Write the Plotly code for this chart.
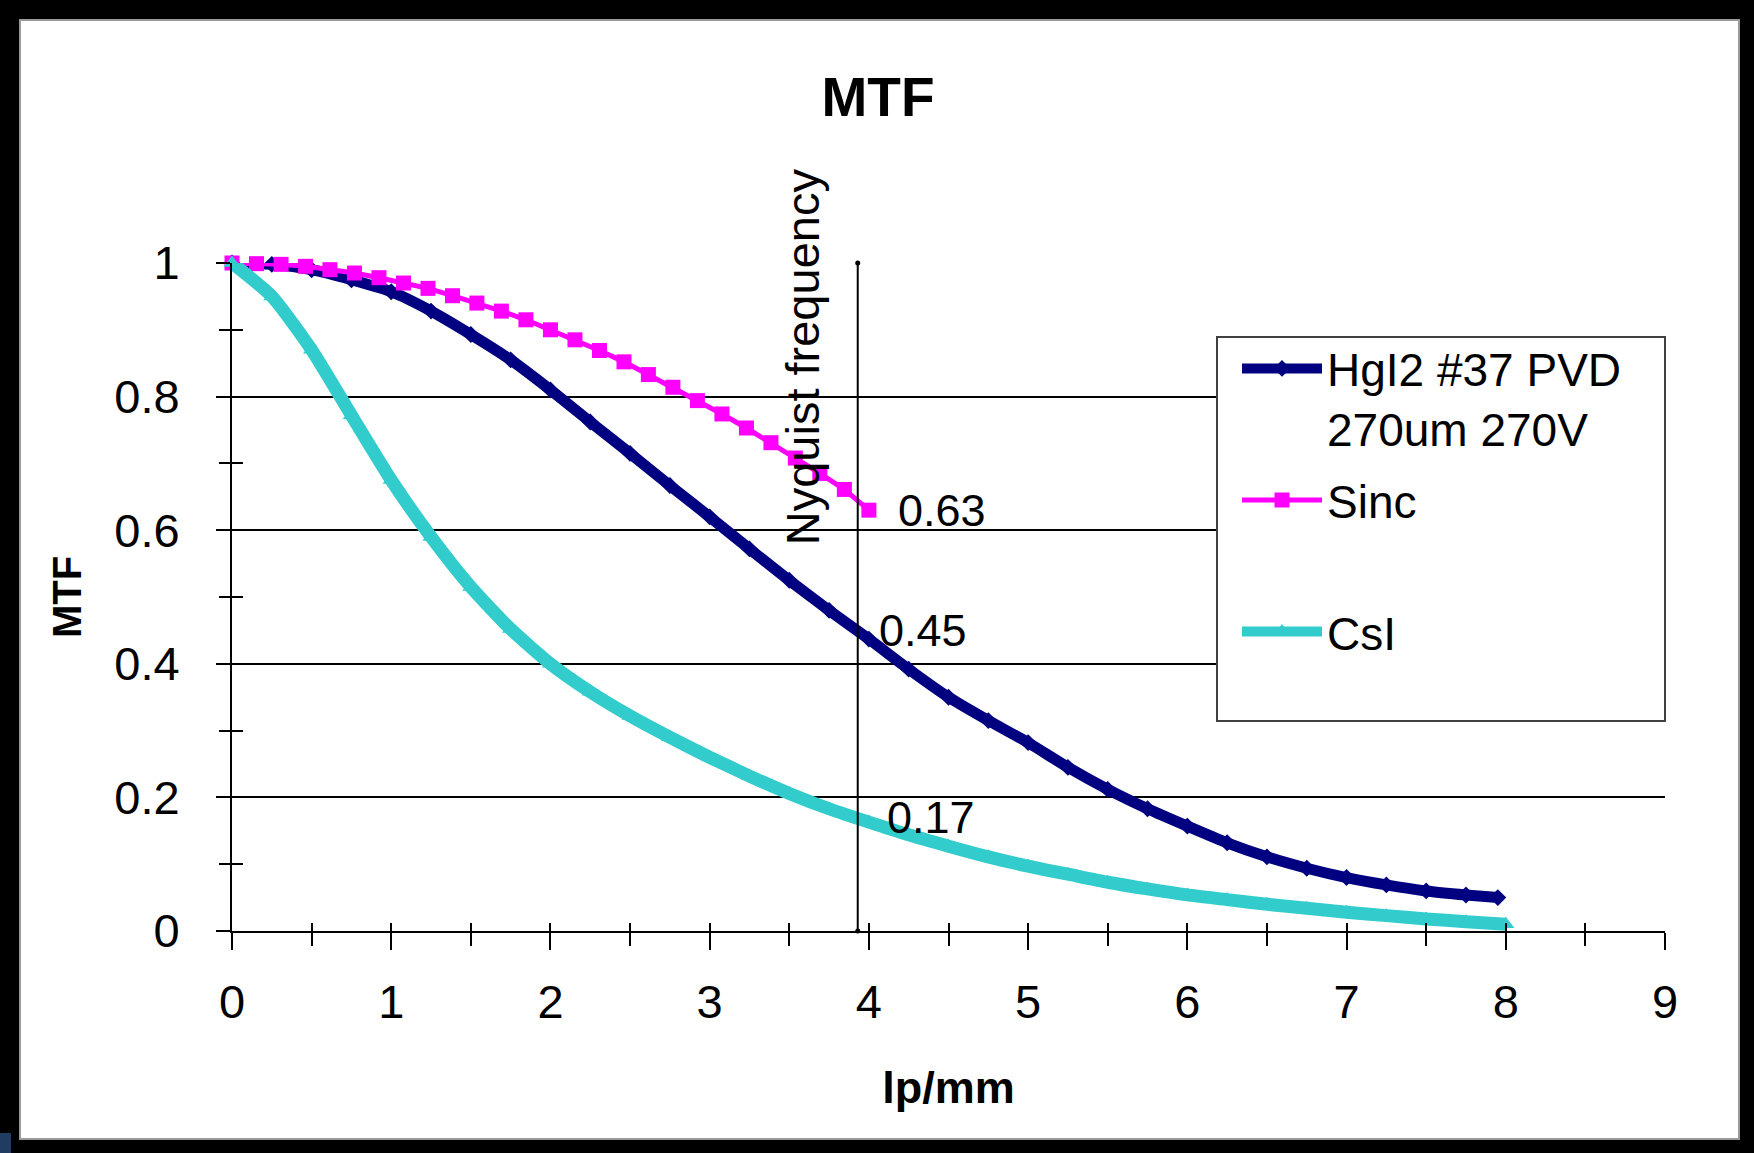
import plotly.graph_objects as go

# ---------------- data ----------------
hg_x = [0, 0.25, 0.5, 0.75, 1.0, 1.25, 1.5, 1.75, 2.0, 2.25, 2.5, 2.75, 3.0, 3.25, 3.5, 3.75,
        4.0, 4.25, 4.5, 4.75, 5.0, 5.25, 5.5, 5.75, 6.0, 6.25, 6.5, 6.75, 7.0, 7.25, 7.5, 7.75, 7.95]
hg_y = [1.0, 0.998, 0.99, 0.975, 0.957, 0.928, 0.893, 0.855, 0.81, 0.762, 0.715, 0.667, 0.62, 0.572,
        0.525, 0.48, 0.437, 0.392, 0.35, 0.315, 0.282, 0.245, 0.212, 0.183, 0.157, 0.132, 0.111,
        0.094, 0.08, 0.069, 0.06, 0.054, 0.05]

sinc_x = [0, 0.154, 0.308, 0.462, 0.615, 0.769, 0.923, 1.077, 1.231, 1.385, 1.538, 1.692, 1.846,
          2.0, 2.154, 2.308, 2.462, 2.615, 2.769, 2.923, 3.077, 3.231, 3.385, 3.538, 3.692, 3.846, 4.0]
sinc_y = [1.0, 0.999, 0.998, 0.995, 0.99, 0.985, 0.978, 0.97, 0.962, 0.951, 0.94, 0.928, 0.915,
          0.9, 0.885, 0.869, 0.852, 0.833, 0.814, 0.794, 0.774, 0.753, 0.731, 0.708, 0.685, 0.661, 0.63]

csi_x = [0, 0.25, 0.5, 0.75, 1.0, 1.25, 1.5, 1.75, 2.0, 2.25, 2.5, 2.75, 3.0, 3.25, 3.5, 3.75,
         4.0, 4.25, 4.5, 4.75, 5.0, 5.25, 5.5, 5.75, 6.0, 6.25, 6.5, 6.75, 7.0, 7.25, 7.5, 7.75, 8.0]
csi_y = [1.0, 0.95, 0.87, 0.772, 0.675, 0.59, 0.515, 0.452, 0.40, 0.358, 0.322, 0.29, 0.26, 0.232,
         0.206, 0.183, 0.163, 0.144, 0.127, 0.111, 0.097, 0.085, 0.073, 0.063, 0.054, 0.047, 0.04,
         0.034, 0.028, 0.023, 0.018, 0.014, 0.01]

series_names = ["HgI2 #37 PVD<br>270um 270V", "Sinc<br>\u00a0", "CsI"]

nyquist_x = 3.93
nyquist_y = [0, 1]
nyq_label_values = [0.63, 0.45, 0.17]
nyq_label_texts = ["0.63", "0.45", "0.17"]

x_ticks = [0, 1, 2, 3, 4, 5, 6, 7, 8, 9]
y_ticks = [0, 0.2, 0.4, 0.6, 0.8, 1]

# ---------------- layout constants ----------------
W, H = 1754, 1153
L, R, T, B = 232, 89, 263, 222
PW = W - L - R
PH = H - T - B
FONT = "Liberation Sans, Arial, sans-serif"
NAVY = "#000080"
MAGENTA = "#FF00FF"
CYAN = "#33CCCC"


def px_x(p):
    return (p - L) / PW


def px_y(p):
    return (H - B - p) / PH


fig = go.Figure()

fig.add_trace(go.Scatter(
    x=hg_x, y=hg_y, name=series_names[0], mode="lines+markers",
    line=dict(color=NAVY, width=11, shape="spline", smoothing=0.6),
    marker=dict(symbol="diamond", size=13, color=NAVY),
    legendgroup="g1", cliponaxis=False))
fig.add_trace(go.Scatter(
    x=sinc_x, y=sinc_y, name=series_names[1], mode="lines+markers",
    line=dict(color=MAGENTA, width=5), marker=dict(symbol="square", size=15, color=MAGENTA),
    legendgroup="g2", cliponaxis=False))
fig.add_trace(go.Scatter(
    x=csi_x, y=csi_y, name=series_names[2], mode="lines+markers",
    line=dict(color=CYAN, width=13, shape="spline", smoothing=0.6),
    marker=dict(symbol="triangle-up", size=15, color=CYAN),
    legendgroup="g3", cliponaxis=False))
fig.add_trace(go.Scatter(
    x=[nyquist_x, nyquist_x], y=nyquist_y, mode="lines+markers", showlegend=False,
    line=dict(color="black", width=2), marker=dict(size=5, color="black"),
    xaxis="x2", yaxis="y2", cliponaxis=False, hoverinfo="skip"))

shapes = []
# legend box
shapes.append(dict(type="rect", xref="paper", yref="paper",
                   x0=px_x(1217), x1=px_x(1665), y0=px_y(721), y1=px_y(337),
                   line=dict(color="#404040", width=2), fillcolor="white", layer="above"))
# black outer frame
for (x0, y0, x1, y1) in [(0, 0, 1754, 19), (0, 0, 19, 1153), (1740, 0, 1754, 1153), (0, 1140, 1754, 1153)]:
    shapes.append(dict(type="rect", xref="paper", yref="paper",
                       x0=px_x(x0), x1=px_x(x1), y0=px_y(y1), y1=px_y(y0),
                       line=dict(width=0), fillcolor="black", layer="above"))
shapes.append(dict(type="rect", xref="paper", yref="paper",
                   x0=px_x(20), x1=px_x(1739), y0=px_y(1139), y1=px_y(20),
                   line=dict(color="#9a9a9a", width=2), fillcolor="rgba(0,0,0,0)", layer="above"))
shapes.append(dict(type="rect", xref="paper", yref="paper",
                   x0=px_x(0), x1=px_x(11), y0=px_y(1153), y1=px_y(1133),
                   line=dict(width=0), fillcolor="#1f3d63", layer="above"))

annotations = []
for txt, val, shift in zip(nyq_label_texts, nyq_label_values, [38, 19, 27]):
    annotations.append(dict(x=nyquist_x, y=val, xref="x", yref="y", text=txt, showarrow=False,
                            xanchor="left", yanchor="middle", xshift=shift,
                            font=dict(family=FONT, size=45, color="black")))
annotations.append(dict(x=nyquist_x, y=0.86, xref="x", yref="y", text="Nyquist frequency",
                        showarrow=False, textangle=-90, xanchor="center", yanchor="middle",
                        xshift=-55, font=dict(family=FONT, size=47, color="black")))

axis_common = dict(showline=False, zeroline=False, showgrid=False)

fig.update_layout(
    width=W, height=H, margin=dict(l=L, r=R, t=T, b=B),
    paper_bgcolor="white", plot_bgcolor="white",
    font=dict(family=FONT, size=44, color="black"),
    title=dict(text="<b>MTF</b>", x=878 / W, xref="container", xanchor="center",
               y=1 - 97 / H, yref="container", yanchor="middle",
               font=dict(family=FONT, size=55, color="black")),
    xaxis=dict(range=[0, 9], tickvals=x_ticks, ticks="outside", ticklen=17, tickwidth=2,
               tickcolor="black", showline=True, linecolor="black", linewidth=2,
               zeroline=False, showgrid=False, ticklabelstandoff=12,
               tickfont=dict(family=FONT, size=47, color="black"),
               minor=dict(dtick=0.5, ticks="outside", ticklen=13, tickwidth=2, tickcolor="black"),
               title=dict(text="<b>lp/mm</b>", standoff=44,
                          font=dict(family=FONT, size=45, color="black"))),
    yaxis=dict(range=[0, 1], tickvals=y_ticks, ticks="outside", ticklen=14, tickwidth=2,
               tickcolor="black", showline=True, linecolor="black", linewidth=2,
               zeroline=False, showgrid=True, gridcolor="black", gridwidth=2,
               ticklabelstandoff=27,
               tickfont=dict(family=FONT, size=47, color="black"),
               minor=dict(dtick=0.1, ticks="outside", ticklen=11, tickwidth=2, tickcolor="black",
                          showgrid=False),
               title=dict(text="<b>MTF</b>", standoff=20,
                          font=dict(family=FONT, size=40, color="black"))),
    xaxis2=dict(range=[0, 9], overlaying="x", anchor="y2", side="bottom", tickvals=x_ticks,
                ticks="inside", ticklen=8, tickwidth=2, tickcolor="black", showticklabels=False,
                minor=dict(dtick=0.5, ticks="inside", ticklen=8, tickwidth=2, tickcolor="black"),
                **axis_common),
    yaxis2=dict(range=[0, 1], overlaying="y", anchor="x2", side="left", tickvals=y_ticks,
                ticks="inside", ticklen=11, tickwidth=2, tickcolor="black", showticklabels=False,
                minor=dict(dtick=0.1, ticks="inside", ticklen=11, tickwidth=2, tickcolor="black"),
                **axis_common),
    legend=dict(x=px_x(1237), y=px_y(332), xanchor="left", yanchor="top",
                bgcolor="rgba(0,0,0,0)", borderwidth=0, itemwidth=80, valign="top",
                traceorder="grouped", tracegroupgap=9,
                font=dict(family=FONT, size=46, color="black")),
    shapes=shapes, annotations=annotations, showlegend=True,
)

fig.write_html("out.html", config={"displayModeBar": False},
               post_script="document.body.style.margin='0';document.body.style.overflow='hidden';")
